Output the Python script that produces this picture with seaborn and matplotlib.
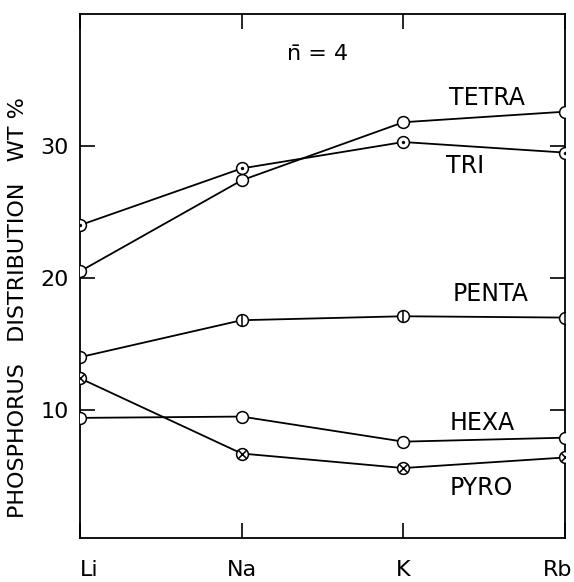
import numpy as np
import pandas as pd
import matplotlib
matplotlib.use("Agg")
import matplotlib.pyplot as plt
import matplotlib.transforms as mtransforms
import seaborn as sns

# Data (wt % of phosphorus, n-bar = 4)
cations = ["Li", "Na", "K", "Rb"]
tetra = [20.5, 27.4, 31.8, 32.6]
tri = [24.0, 28.3, 30.3, 29.5]
penta = [14.0, 16.8, 17.1, 17.0]
hexa = [9.4, 9.5, 7.6, 7.9]
pyro = [12.4, 6.7, 5.6, 6.4]

series_names = ["TETRA", "TRI", "PENTA", "HEXA", "PYRO"]
series_values = [tetra, tri, penta, hexa, pyro]
# inner symbol drawn on top of the open circle (None = plain circle)
inner_marks = [None, ".", "|", None, "x"]
label_pos = [(2.52, 33.6), (2.38, 28.5), (2.54, 18.8), (2.49, 9.0), (2.48, 4.1)]

y_ticks = [10, 20, 30]

sns.set_theme(style="ticks")
plt.rcParams["font.family"] = ["DejaVu Sans"]
plt.rcParams["text.color"] = "black"

pos = np.arange(len(cations))
frames = []
for name, vals in zip(series_names, series_values):
    frames.append(pd.DataFrame({"pos": pos, "cation": cations, "wt": vals, "series": name}))
df = pd.concat(frames, ignore_index=True)

fig = plt.figure(figsize=(5.74, 5.82), dpi=100)
ax = fig.add_axes([80 / 574, 1 - 538 / 582, (565 - 80) / 574, (538 - 14) / 582])

for name, mark in zip(series_names, inner_marks):
    sub = df[df["series"] == name]
    sns.lineplot(data=sub, x="pos", y="wt", ax=ax, color="black", linewidth=1.3,
                 marker="o", markersize=8.5, markerfacecolor="white",
                 markeredgecolor="black", markeredgewidth=1.1, zorder=3)
    if mark == ".":
        sns.scatterplot(data=sub, x="pos", y="wt", ax=ax, marker="o", s=5,
                        color="black", edgecolor="black", zorder=4)
    elif mark == "|":
        sns.scatterplot(data=sub, x="pos", y="wt", ax=ax, marker="|", s=72,
                        color="black", linewidth=1.1, zorder=4)
    elif mark == "x":
        sns.scatterplot(data=sub, x="pos", y="wt", ax=ax, marker="x", s=32,
                        color="black", linewidth=1.1, zorder=4)

for name, (lx, ly) in zip(series_names, label_pos):
    ax.text(lx, ly, name, fontsize=17, ha="center", va="center", color="black")

ax.text(1.47, 37.0, "n\u0304 = 4", fontsize=16, ha="center", va="center", color="black")

ax.set_xlim(0, 3)
ax.set_ylim(0.3, 40)
ax.set_xticks(pos)
ax.set_xticklabels(cations)
ax.set_yticks(y_ticks)
ax.tick_params(axis="both", direction="in", length=11, width=1.2, labelsize=16,
               top=True, right=True, colors="black", labelcolor="black")
ax.tick_params(axis="x", pad=16)
ax.tick_params(axis="y", pad=8)
xlabels = ax.get_xticklabels()
xlabels[0].set_horizontalalignment("left")
xlabels[-1].set_horizontalalignment("right")
xlabels[-1].set_transform(xlabels[-1].get_transform()
                          + mtransforms.ScaledTranslation(7 / 100, 0, fig.dpi_scale_trans))
for sp in ax.spines.values():
    sp.set_linewidth(1.3)
    sp.set_color("black")

ax.set_xlabel("")
ax.set_ylabel("PHOSPHORUS   DISTRIBUTION   WT %", fontsize=16, color="black")
ax.yaxis.set_label_coords(-0.107, 0.44)

fig.savefig("out.png", dpi=100, facecolor="white")
